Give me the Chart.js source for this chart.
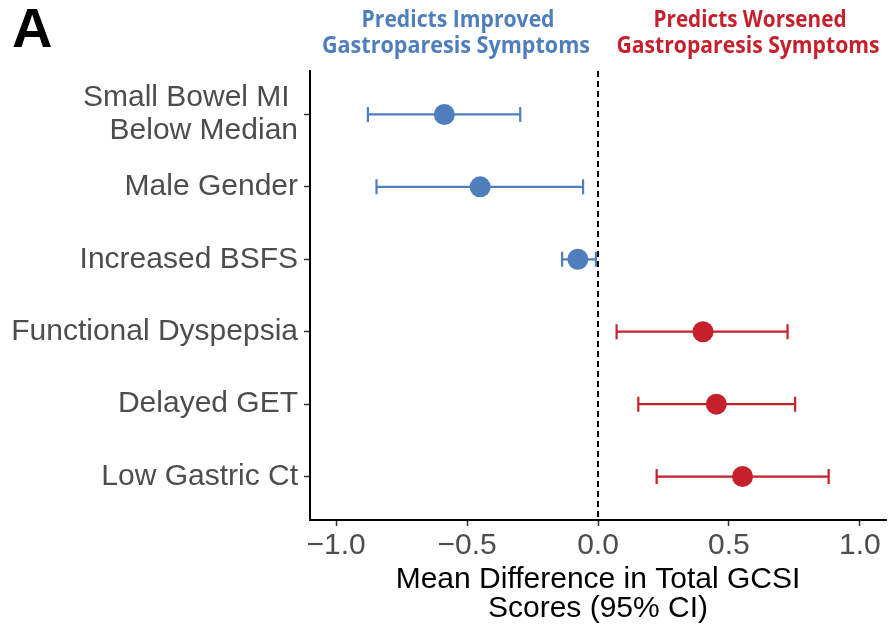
<!DOCTYPE html>
<html>
<head>
<meta charset="utf-8">
<script src="https://cdn.jsdelivr.net/npm/chart.js@4.4.1/dist/chart.umd.min.js"></script>
<style>
  html, body { margin: 0; padding: 0; background: #ffffff; }
  #wrap { position: relative; width: 888px; height: 625px; }
</style>
</head>
<body>
<div id="wrap"><canvas id="c" width="888" height="625"></canvas></div>
<script>
// ---- data ----
const categories = [
  'Small Bowel MI \nBelow Median',
  'Male Gender',
  'Increased BSFS',
  'Functional Dyspepsia',
  'Delayed GET',
  'Low Gastric Ct'
];
const estimate = [-0.587, -0.450, -0.077, 0.401, 0.452, 0.552];
const lower    = [-0.879, -0.846, -0.137, 0.071, 0.154, 0.224];
const upper    = [-0.297, -0.057, -0.008, 0.724, 0.753, 0.881];
const direction = ['Improved', 'Improved', 'Improved', 'Worsened', 'Worsened', 'Worsened'];
const xTicks = [-1.0, -0.5, 0.0, 0.5, 1.0];
const xTitle = ['Mean Difference in Total GCSI', 'Scores (95% CI)'];
const headerImproved = ['Predicts Improved', 'Gastroparesis Symptoms'];
const headerWorsened = ['Predicts Worsened', 'Gastroparesis Symptoms'];
const panelLabel = 'A';

// ---- styles ----
const colors = { Improved: '#4F7EBD', Worsened: '#C5202B' };
const pointColors = direction.map(d => colors[d]);

const errorBars = {
  id: 'errorBars',
  beforeDatasetsDraw(chart) {
    const { ctx, scales: { x, y } } = chart;
    ctx.save();
    ctx.lineWidth = 2.2;
    for (let i = 0; i < estimate.length; i++) {
      const yp = y.getPixelForValue(i + 1);
      const x0 = x.getPixelForValue(lower[i]);
      const x1 = x.getPixelForValue(upper[i]);
      ctx.strokeStyle = pointColors[i];
      ctx.beginPath();
      ctx.moveTo(x0, yp); ctx.lineTo(x1, yp);
      ctx.moveTo(x0, yp - 7.5); ctx.lineTo(x0, yp + 7.5);
      ctx.moveTo(x1, yp - 7.5); ctx.lineTo(x1, yp + 7.5);
      ctx.stroke();
    }
    ctx.restore();
  },
  afterDatasetsDraw(chart) {
    const { ctx, chartArea, scales: { x } } = chart;
    const xp = x.getPixelForValue(0);
    ctx.save();
    ctx.strokeStyle = '#000';
    ctx.lineWidth = 2;
    ctx.setLineDash([6, 4]);
    ctx.beginPath();
    ctx.moveTo(xp, chartArea.top);
    ctx.lineTo(xp, chartArea.bottom);
    ctx.stroke();
    ctx.restore();
  },
  afterDraw(chart) {
    const { ctx } = chart;
    ctx.save();
    ctx.fillStyle = '#000';
    ctx.font = 'bold 56px "Liberation Sans", Arial, sans-serif';
    ctx.textAlign = 'left';
    ctx.textBaseline = 'alphabetic';
    ctx.fillText(panelLabel, 12, 47);

    ctx.textAlign = 'center';
    ctx.font = 'bold 23px "Open Sans", "Noto Sans", sans-serif';
    ctx.fillStyle = colors.Improved;
    ctx.fillText(headerImproved[0], 458, 27, 193);
    ctx.fillText(headerImproved[1], 456, 53, 268);
    ctx.fillStyle = colors.Worsened;
    ctx.fillText(headerWorsened[0], 750, 27, 193);
    ctx.fillText(headerWorsened[1], 748, 53, 263);
    ctx.restore();
  }
};

new Chart(document.getElementById('c'), {
  type: 'scatter',
  data: {
    datasets: [{
      data: estimate.map((v, i) => ({ x: v, y: i + 1 })),
      pointBackgroundColor: pointColors,
      pointBorderWidth: 0,
      pointRadius: 10.5,
      pointHoverRadius: 10.5
    }]
  },
  options: {
    responsive: false,
    animation: false,
    events: [],
    layout: { autoPadding: false, padding: { top: 71, right: 2, left: 0, bottom: 0 } },
    plugins: { legend: { display: false }, tooltip: { enabled: false } },
    scales: {
      x: {
        type: 'linear',
        min: -1.1,
        max: 1.1,
        afterBuildTicks(scale) { scale.ticks = xTicks.map(v => ({ value: v })); },
        afterFit(scale) { scale.height = 105; scale.paddingLeft = 0; scale.paddingRight = 0; },
        grid: { drawOnChartArea: false, drawTicks: true, tickLength: 6, tickColor: '#333', tickWidth: 1.5 },
        border: { display: true, color: '#000', width: 2 },
        ticks: {
          color: '#4d4d4d',
          padding: 2,
          maxRotation: 0,
          font: { family: '"Liberation Sans", Arial, sans-serif', size: 30 },
          callback: v => (v < 0 ? '\u2212' : '') + Math.abs(v).toFixed(1)
        },
        title: {
          display: true,
          text: xTitle,
          color: '#000',
          padding: { top: 0, bottom: 2 },
          font: { family: '"Liberation Sans", Arial, sans-serif', size: 30, lineHeight: 0.97 }
        }
      },
      y: {
        type: 'linear',
        reverse: true,
        min: 0.4,
        max: 6.6,
        afterBuildTicks(scale) { scale.ticks = categories.map((c, i) => ({ value: i + 1 })); },
        afterFit(scale) { scale.width = 310; scale.paddingTop = 0; scale.paddingBottom = 0; },
        grid: { drawOnChartArea: false, drawTicks: true, tickLength: 6, tickColor: '#333', tickWidth: 1.5 },
        border: { display: true, color: '#000', width: 2 },
        ticks: {
          color: '#4d4d4d',
          padding: 6,
          font: { family: '"Liberation Sans", Arial, sans-serif', size: 30, lineHeight: 1.1 },
          callback: v => {
            const c = categories[Math.round(v) - 1];
            return c ? c.split('\n') : '';
          }
        }
      }
    }
  },
  plugins: [errorBars]
});
</script>
</body>
</html>
